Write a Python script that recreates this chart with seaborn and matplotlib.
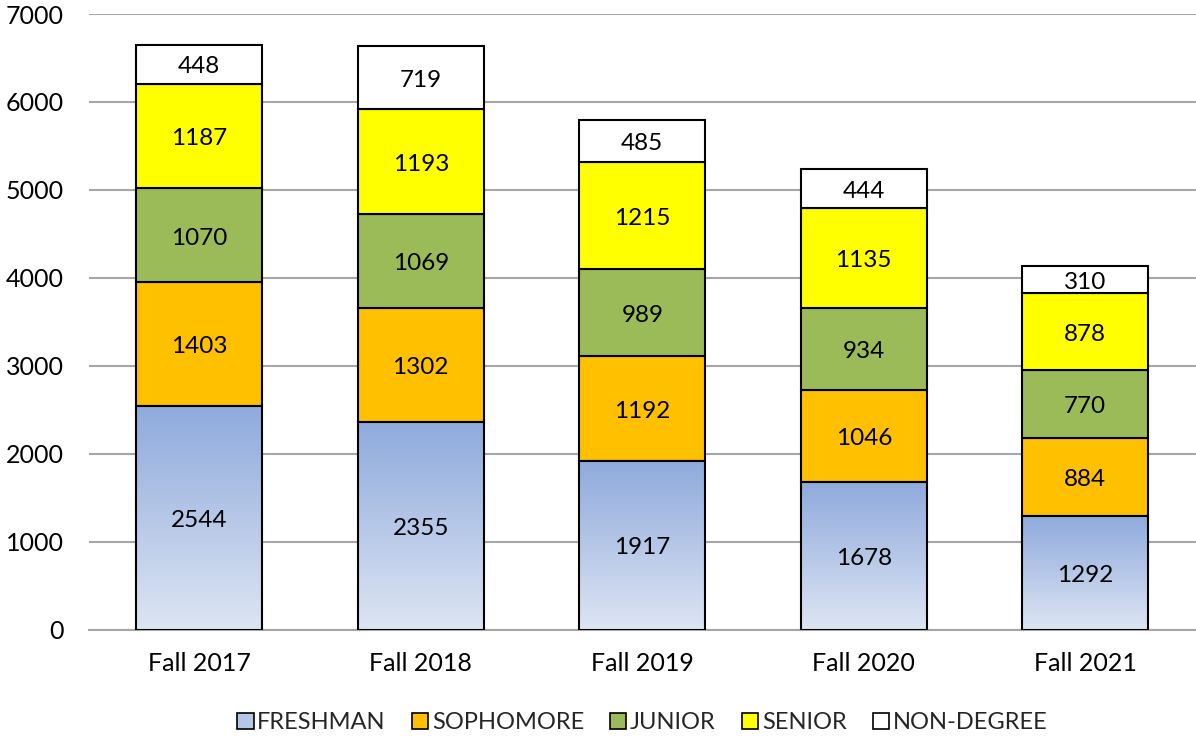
import numpy as np
import pandas as pd
import matplotlib
matplotlib.use("Agg")
import matplotlib.pyplot as plt
import seaborn as sns
from matplotlib.patches import Patch
from matplotlib.colors import LinearSegmentedColormap

terms = ["Fall 2017", "Fall 2018", "Fall 2019", "Fall 2020", "Fall 2021"]
freshman = [2544, 2355, 1917, 1678, 1292]
sophomore = [1403, 1302, 1192, 1046, 884]
junior = [1070, 1069, 989, 934, 770]
senior = [1187, 1193, 1215, 1135, 878]
non_degree = [448, 719, 485, 444, 310]

levels = ["FRESHMAN", "SOPHOMORE", "JUNIOR", "SENIOR", "NON-DEGREE"]
colors = ["#b4c7e7", "#ffc000", "#9bbb59", "#ffff00", "#ffffff"]
series = [freshman, sophomore, junior, senior, non_degree]

sns.set_theme(style="white")
plt.rcParams['font.family'] = ['Lato', 'DejaVu Sans']

fig, ax = plt.subplots(figsize=(11.96, 7.38), dpi=100)
fig.subplots_adjust(left=0.074, right=1.0, top=0.981, bottom=0.147)

bottom = np.zeros(len(terms))
for name, vals, col in zip(levels, series, colors):
    df = pd.DataFrame({"term": terms, "count": vals})
    sns.barplot(data=df, x="term", y="count", color=col, bottom=bottom,
                width=0.57, edgecolor="black", linewidth=1.5, saturation=1,
                ax=ax, zorder=3)
    bars = ax.patches[-len(terms):]
    for b, v, btm in zip(bars, vals, bottom):
        ax.text(b.get_x() + b.get_width() / 2, btm + v / 2 - 30, str(v),
                ha="center", va="center", fontsize=17.5, color="black", zorder=5)
    if name == "FRESHMAN":
        # gradient fill for the freshman segment
        cmap = LinearSegmentedColormap.from_list("fr", ["#dde5f3", "#8faadc"])
        grad = np.linspace(0, 1, 256).reshape(-1, 1)
        for b in bars:
            x0, y0 = b.get_x(), b.get_y()
            im = ax.imshow(grad, cmap=cmap, aspect="auto", origin="lower",
                           extent=[x0, x0 + b.get_width(), y0, y0 + b.get_height()],
                           zorder=3.5)
            im.set_clip_path(b)
            b.set_facecolor("none")
            b.set_zorder(4)
    bottom = bottom + np.array(vals)

ax.set_xlim(-0.5, len(terms) - 0.5)
ax.set_ylim(0, 7000)
ax.set_yticks(range(0, 7001, 1000))
ax.yaxis.grid(True, color="#a6a6a6", linewidth=1.5, zorder=0)
ax.set_axisbelow(True)
for s in ["top", "right", "left"]:
    ax.spines[s].set_visible(False)
ax.spines["bottom"].set_color("#a6a6a6")
ax.spines["bottom"].set_linewidth(1.5)
ax.tick_params(axis="both", labelsize=18, length=0, colors="black")
ax.tick_params(axis="x", pad=16)
ax.tick_params(axis="y", pad=18)
ax.set_xlabel("")
ax.set_ylabel("")

handles = [Patch(facecolor=c, edgecolor="black", linewidth=1.2, label=l)
           for l, c in zip(levels, colors)]
ax.legend(handles=handles, loc="lower center", bbox_to_anchor=(0.5, -0.203),
          ncol=5, frameon=False, fontsize=17, handlelength=0.7, handleheight=0.7,
          handletextpad=0.15, columnspacing=1.1)

fig.savefig("out.png", dpi=100)
